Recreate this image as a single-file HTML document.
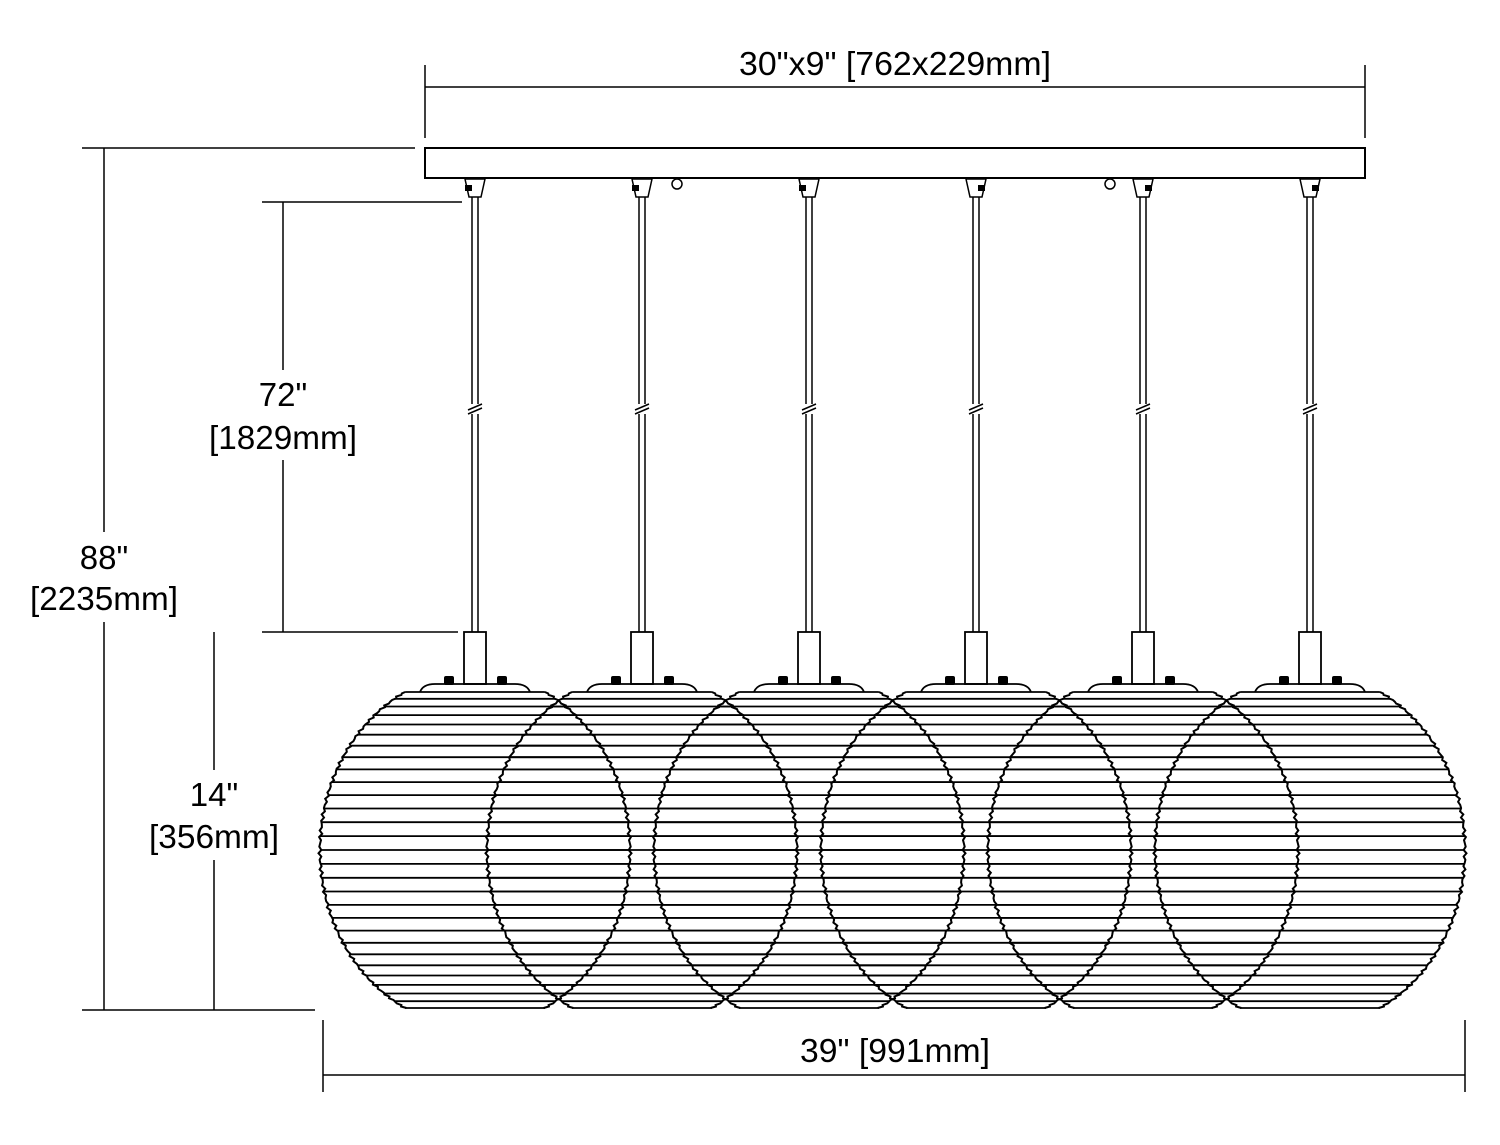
<!DOCTYPE html>
<html><head><meta charset="utf-8">
<style>
html,body{margin:0;padding:0;background:#fff;}
svg{display:block;}
text{font-family:"Liberation Sans",sans-serif;font-size:33px;fill:#000;}
</style></head>
<body>
<svg id="s" width="1500" height="1145" viewBox="0 0 1500 1145" xmlns="http://www.w3.org/2000/svg">
<g stroke="#000" stroke-width="1.5" fill="none">
<line x1="425" y1="65" x2="425" y2="138"/>
<line x1="1365" y1="65" x2="1365" y2="138"/>
<line x1="425" y1="87" x2="1365" y2="87"/>
<rect x="425" y="148" width="940" height="30" stroke-width="2"/>
<circle cx="677" cy="184" r="5"/>
<circle cx="1110" cy="184" r="5"/>
<line x1="82" y1="148" x2="415" y2="148"/>
<line x1="82" y1="1010" x2="315" y2="1010"/>
<line x1="104" y1="148" x2="104" y2="532"/>
<line x1="104" y1="622" x2="104" y2="1010"/>
<line x1="262" y1="202" x2="462" y2="202"/>
<line x1="262" y1="632" x2="458" y2="632"/>
<line x1="283" y1="202" x2="283" y2="370"/>
<line x1="283" y1="460" x2="283" y2="632"/>
<line x1="214" y1="632" x2="214" y2="770"/>
<line x1="214" y1="860" x2="214" y2="1010"/>
<line x1="323" y1="1020" x2="323" y2="1092"/>
<line x1="1465" y1="1020" x2="1465" y2="1092"/>
<line x1="323" y1="1075" x2="1465" y2="1075"/>
</g>
<g id="lamps" stroke="#000" fill="none"></g>
<text x="895" y="75" text-anchor="middle" textLength="312" lengthAdjust="spacingAndGlyphs">30"x9" [762x229mm]</text>
<text x="104" y="569" text-anchor="middle">88"</text>
<text x="104" y="610" text-anchor="middle" textLength="148" lengthAdjust="spacingAndGlyphs">[2235mm]</text>
<text x="283" y="406" text-anchor="middle">72"</text>
<text x="283" y="449" text-anchor="middle" textLength="148" lengthAdjust="spacingAndGlyphs">[1829mm]</text>
<text x="214" y="806" text-anchor="middle">14"</text>
<text x="214" y="848" text-anchor="middle" textLength="130" lengthAdjust="spacingAndGlyphs">[356mm]</text>
<text x="895" y="1062" text-anchor="middle" textLength="190" lengthAdjust="spacingAndGlyphs">39" [991mm]</text>
</svg>
<script>
var g=document.getElementById('lamps');var h='';
var xs=[475,642,809,976,1143,1310];
var cy=850,rx=155,ry=177;
var p0=Math.asin((692-cy)/ry);var N=28;
xs.forEach(function(x,idx){
  h+='<path d="M'+(x-10)+' 179 L'+(x+10)+' 179 L'+(x+6)+' 197 L'+(x-6)+' 197 Z" stroke-width="1.5"/>';
  h+='<rect x="'+(idx<3?x-10:x+2)+'" y="185" width="7" height="6" fill="#000" stroke="none"/>';
  h+='<line x1="'+(x-3)+'" y1="197" x2="'+(x-3)+'" y2="632" stroke-width="1.5"/>';
  h+='<line x1="'+(x+3)+'" y1="197" x2="'+(x+3)+'" y2="632" stroke-width="1.5"/>';
  h+='<rect x="'+(x-7)+'" y="404" width="14" height="10" fill="#fff" stroke="none"/>';
  h+='<line x1="'+(x-7)+'" y1="410" x2="'+(x+7)+'" y2="404" stroke-width="1.5"/>';
  h+='<line x1="'+(x-7)+'" y1="414" x2="'+(x+7)+'" y2="408" stroke-width="1.5"/>';
  h+='<rect x="'+(x-11)+'" y="632" width="22" height="52" fill="#fff" stroke-width="1.8"/>';
  h+='<rect x="'+(x-31)+'" y="676" width="10" height="9" rx="2" fill="#000" stroke="none"/>';
  h+='<rect x="'+(x+22)+'" y="676" width="10" height="9" rx="2" fill="#000" stroke="none"/>';
  h+='<path d="M'+(x-55)+' 692 Q'+(x-52)+' 684 '+(x-40)+' 684 L'+(x+40)+' 684 Q'+(x+52)+' 684 '+(x+55)+' 692" stroke-width="1.8"/>';
  for(var i=0;i<=N;i++){
    var p=p0+(-2*p0)*i/N;var y=cy+ry*Math.sin(p);var hw=rx*Math.cos(p);
    h+='<line x1="'+(x-hw).toFixed(1)+'" y1="'+y.toFixed(1)+'" x2="'+(x+hw).toFixed(1)+'" y2="'+y.toFixed(1)+'" stroke-width="1.8"/>';
  }
  [-1,1].forEach(function(s){
    var d='';
    for(var k=0;k<=120;k++){
      var p=p0+(-2*p0)*k/120;var y=cy+ry*Math.sin(p);var w=rx*Math.cos(p)+1.5*Math.sin(k*2.6);
      d+=(k?'L':'M')+(x+s*w).toFixed(1)+' '+y.toFixed(1);
    }
    h+='<path d="'+d+'" stroke-width="2"/>';
  });
});
g.innerHTML=h;
</script>
</body></html>
